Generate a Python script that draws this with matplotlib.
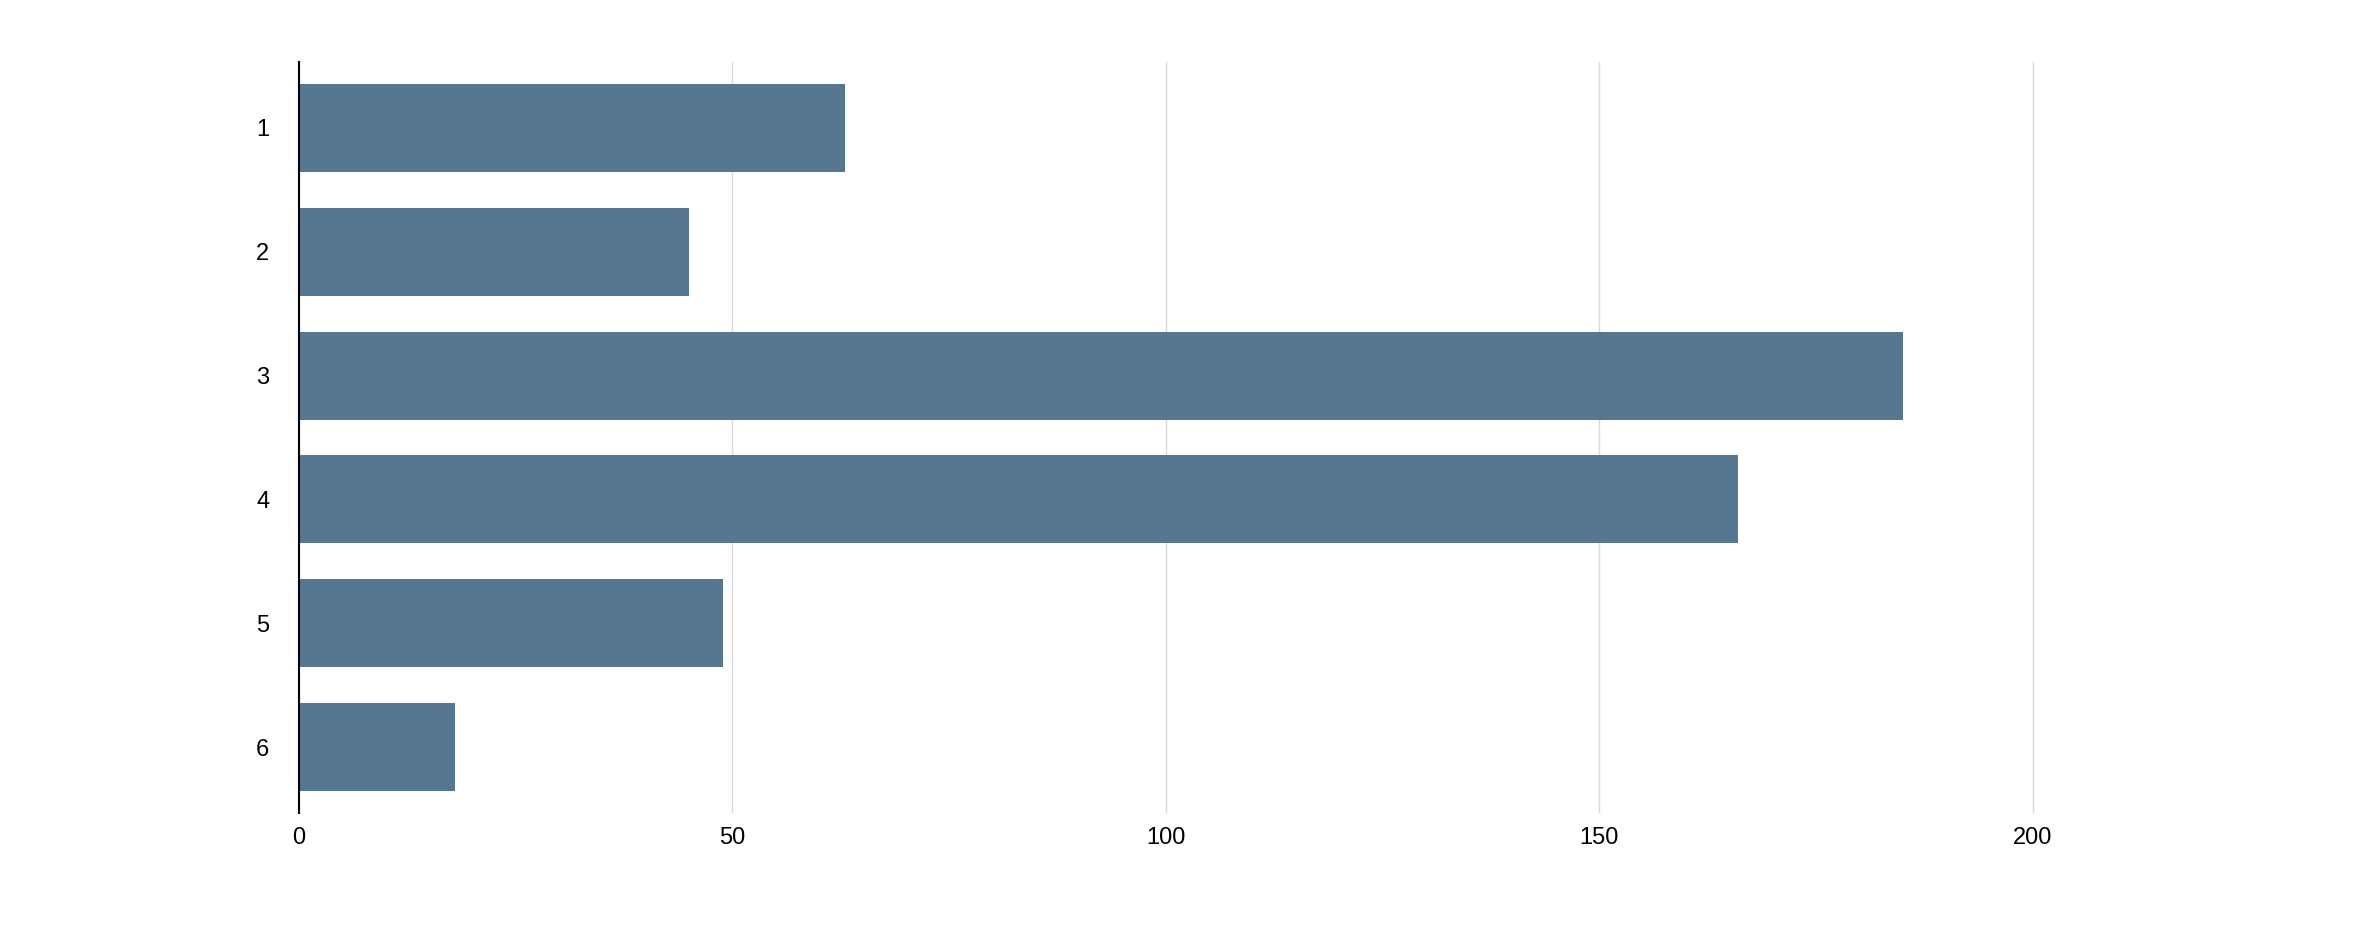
import matplotlib.pyplot as plt

# dữ liệu
labels = ["1", "2", "3", "4", "5", "6"]
values = [63, 45, 185, 166, 49, 18]
xticks = [0, 50, 100, 150, 200]

plt.rcParams['font.family'] = ['Liberation Sans', 'DejaVu Sans']

fig = plt.figure(figsize=(23.62, 9.32), dpi=100)
ax = fig.add_axes([0.1264, 0.1277, 0.826, 0.8058])

pos = list(range(len(labels)))
ax.barh(pos, values, height=0.71, color="#56778f", zorder=2)

ax.set_ylim(5.53, -0.53)
ax.set_xlim(0, 225)
ax.set_yticks(pos)
ax.set_yticklabels(labels)
ax.set_xticks(xticks)
ax.set_xticklabels([str(t) for t in xticks])

# grid + spines
ax.grid(axis="x", color="#d9d9d9", linewidth=1, zorder=0)
for s in ["top", "right", "bottom"]:
    ax.spines[s].set_visible(False)
ax.spines["left"].set_linewidth(1.5)
ax.spines["left"].set_color("black")
ax.spines["left"].set_zorder(3)

ax.tick_params(axis="y", length=0, pad=21, labelsize=17)
ax.tick_params(axis="x", length=0, pad=10, labelsize=17)

plt.savefig("out.png", dpi=100)
